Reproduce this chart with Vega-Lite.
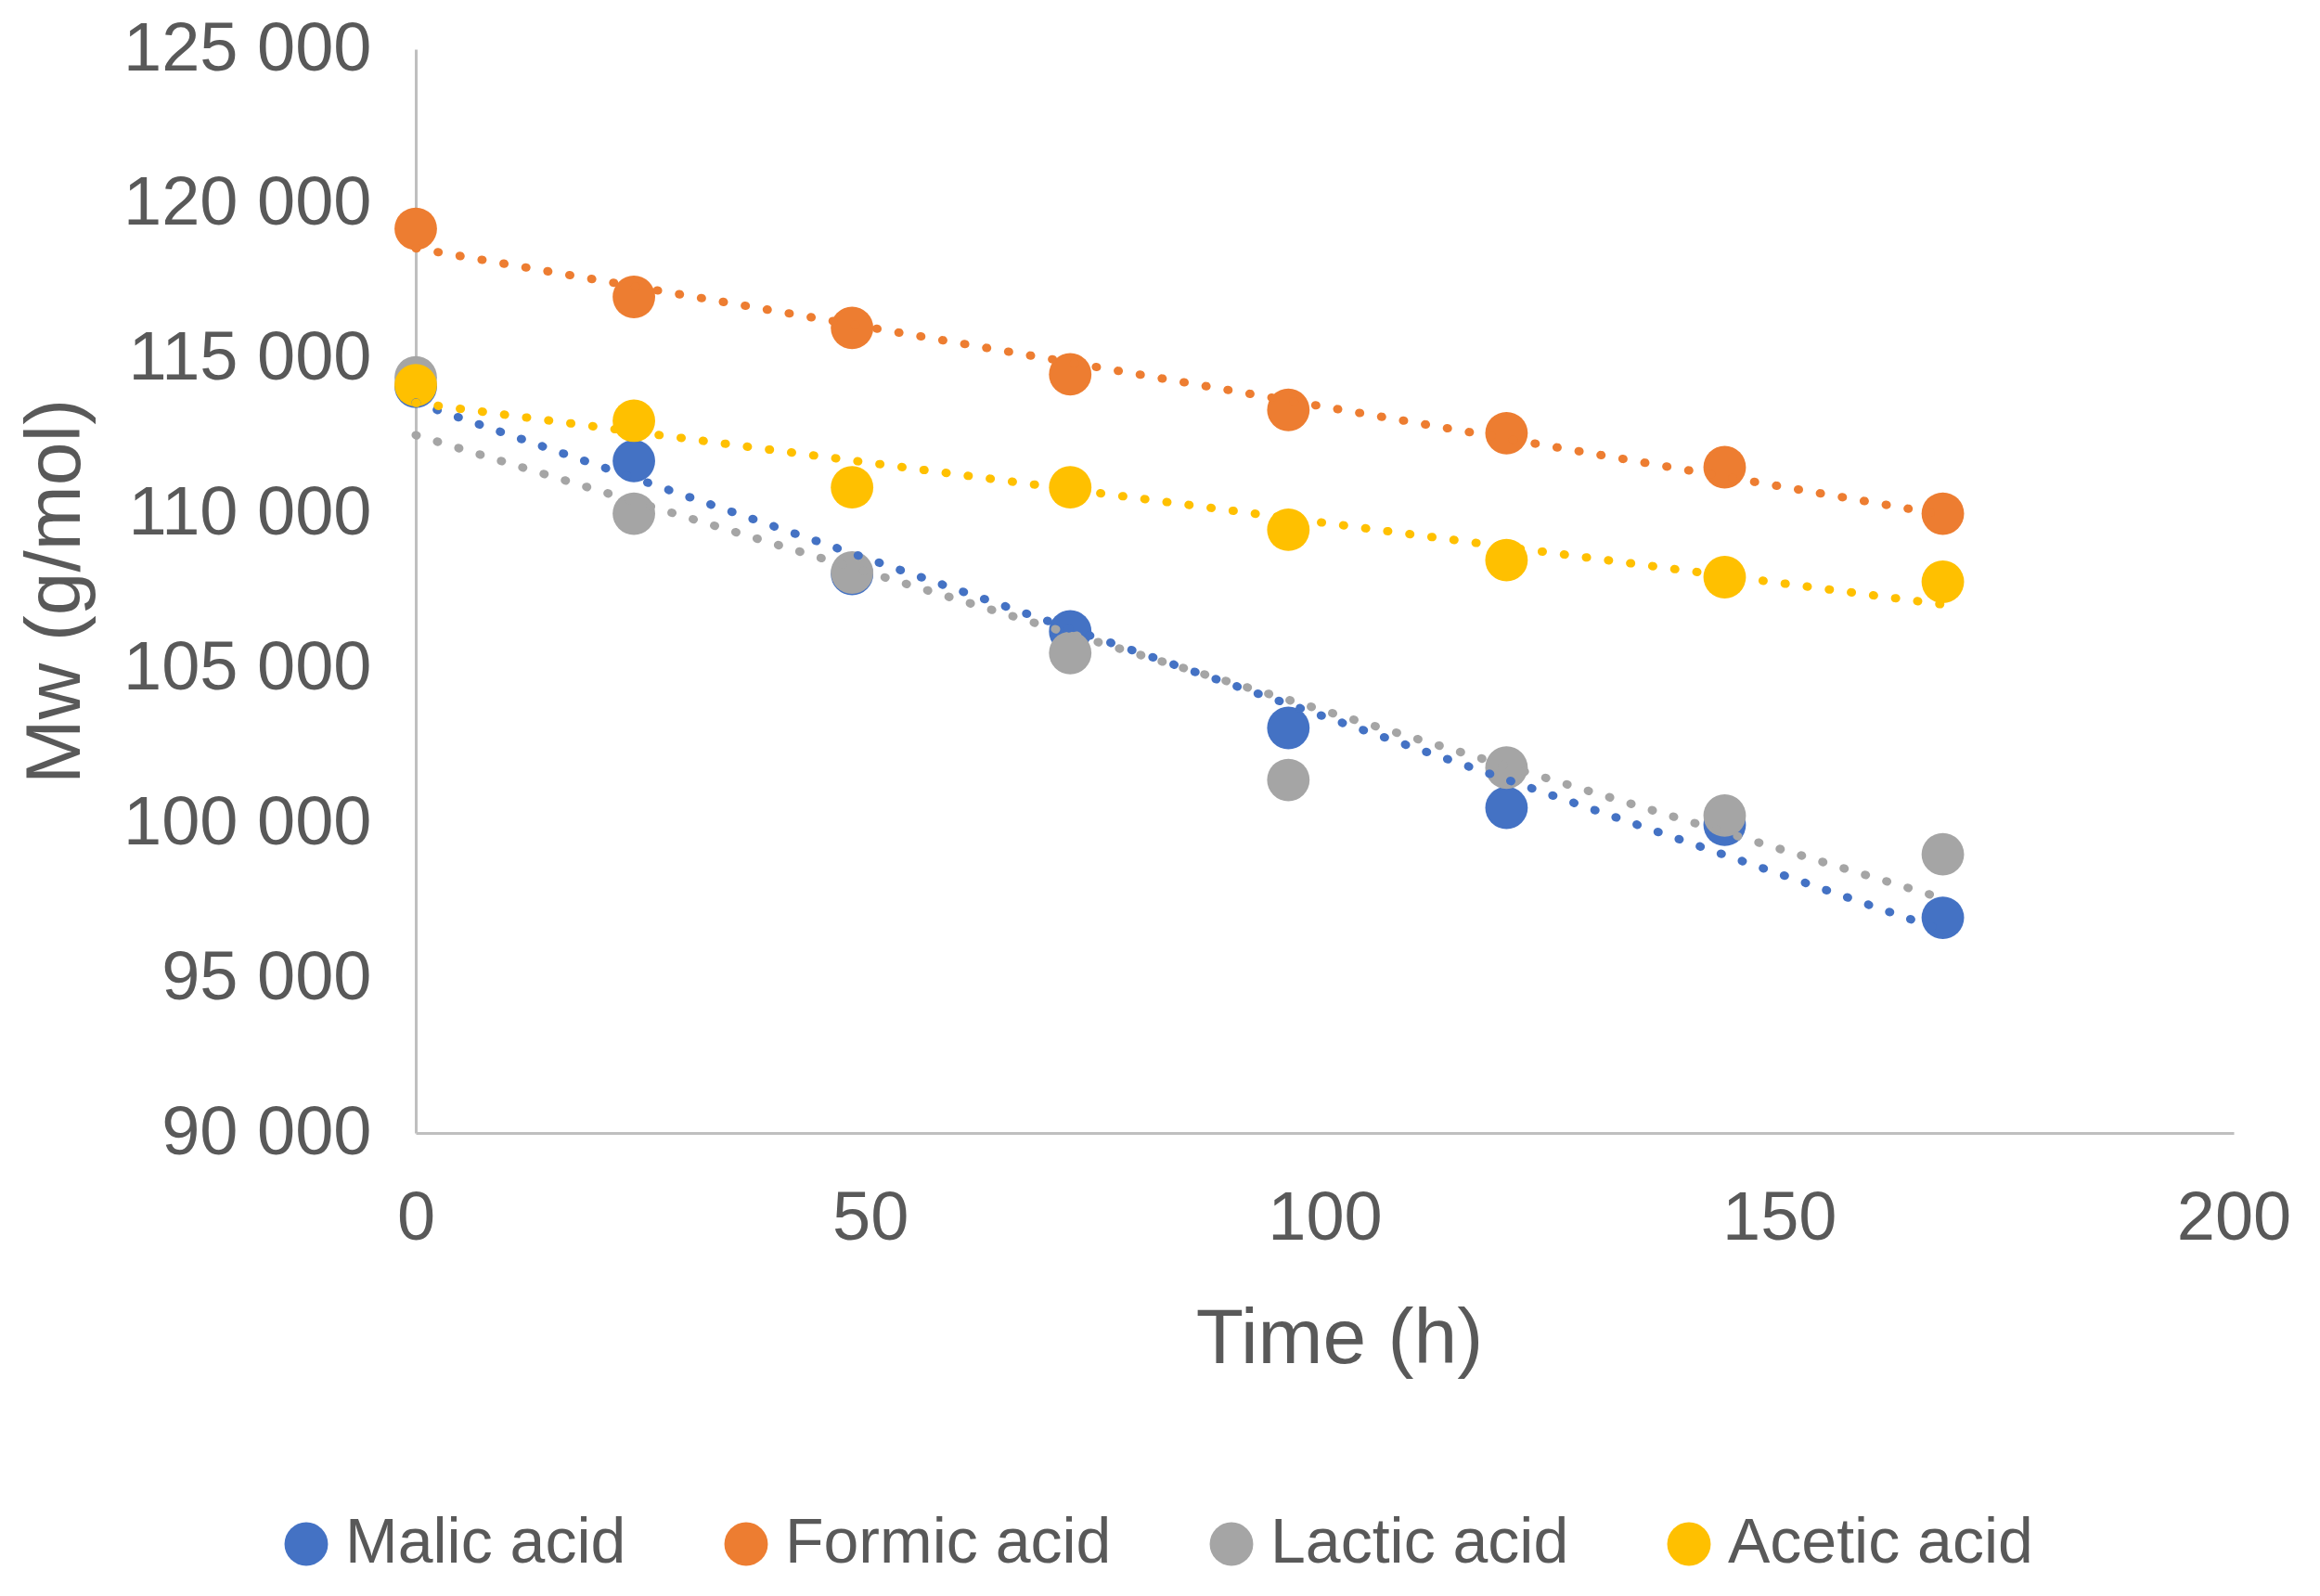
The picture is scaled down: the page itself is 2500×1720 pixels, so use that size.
{
  "$schema": "https://vega.github.io/schema/vega-lite/v6.json",
  "width": 1959,
  "height": 1168,
  "autosize": {"type": "none"},
  "padding": {"left": 448, "top": 53, "right": 93, "bottom": 499},
  "background": "white",
  "config": {
    "view": {"stroke": null},
    "font": "Liberation Sans",
    "axis": {
      "grid": false,
      "ticks": false,
      "domainColor": "#BFBFBF",
      "domainWidth": 3,
      "labelColor": "#595959",
      "titleColor": "#595959",
      "labelFont": "Liberation Sans",
      "titleFont": "Liberation Sans",
      "labelFontSize": 74,
      "titleFontSize": 84,
      "titleFontWeight": "normal",
      "labelLimit": 0
    }
  },
  "data": {
    "values": [
      {"Acid": "Malic acid", "Time": 0, "Mw": 114100},
      {"Acid": "Malic acid", "Time": 24, "Mw": 111700},
      {"Acid": "Malic acid", "Time": 48, "Mw": 108050},
      {"Acid": "Malic acid", "Time": 72, "Mw": 106200},
      {"Acid": "Malic acid", "Time": 96, "Mw": 103080},
      {"Acid": "Malic acid", "Time": 120, "Mw": 100500},
      {"Acid": "Malic acid", "Time": 144, "Mw": 99950},
      {"Acid": "Malic acid", "Time": 168, "Mw": 96950},
      {"Acid": "Formic acid", "Time": 0, "Mw": 119200},
      {"Acid": "Formic acid", "Time": 24, "Mw": 117000},
      {"Acid": "Formic acid", "Time": 48, "Mw": 116000},
      {"Acid": "Formic acid", "Time": 72, "Mw": 114500},
      {"Acid": "Formic acid", "Time": 96, "Mw": 113350},
      {"Acid": "Formic acid", "Time": 120, "Mw": 112600},
      {"Acid": "Formic acid", "Time": 144, "Mw": 111500},
      {"Acid": "Formic acid", "Time": 168, "Mw": 110000},
      {"Acid": "Lactic acid", "Time": 0, "Mw": 114400},
      {"Acid": "Lactic acid", "Time": 24, "Mw": 110000},
      {"Acid": "Lactic acid", "Time": 48, "Mw": 108100},
      {"Acid": "Lactic acid", "Time": 72, "Mw": 105500},
      {"Acid": "Lactic acid", "Time": 96, "Mw": 101400},
      {"Acid": "Lactic acid", "Time": 120, "Mw": 101800},
      {"Acid": "Lactic acid", "Time": 144, "Mw": 100250},
      {"Acid": "Lactic acid", "Time": 168, "Mw": 99000},
      {"Acid": "Acetic acid", "Time": 0, "Mw": 114150},
      {"Acid": "Acetic acid", "Time": 24, "Mw": 113000},
      {"Acid": "Acetic acid", "Time": 48, "Mw": 110850},
      {"Acid": "Acetic acid", "Time": 72, "Mw": 110850},
      {"Acid": "Acetic acid", "Time": 96, "Mw": 109480},
      {"Acid": "Acetic acid", "Time": 120, "Mw": 108500},
      {"Acid": "Acetic acid", "Time": 144, "Mw": 107950},
      {"Acid": "Acetic acid", "Time": 168, "Mw": 107800}
    ]
  },
  "layer": [
    {
      "mark": {"type": "point", "shape": "circle", "filled": true, "opacity": 1, "size": 2100},
      "encoding": {
        "x": {
          "field": "Time", "type": "quantitative",
          "scale": {"domain": [0, 200], "nice": false},
          "axis": {"values": [0, 50, 100, 150, 200], "title": "Time (h)", "titleX": 995, "labelPadding": 56, "titlePadding": 52, "labelFlush": false, "labelOverlap": false}
        },
        "y": {
          "field": "Mw", "type": "quantitative",
          "scale": {"domain": [90000, 125000], "nice": false, "zero": false},
          "axis": {"values": [90000, 95000, 100000, 105000, 110000, 115000, 120000, 125000], "title": "Mw (g/mol)", "titleX": -388, "titleY": 584, "titleAngle": -90, "titleBaseline": "middle", "titleAlign": "center", "labelExpr": "replace(format(datum.value, ','), ',', ' ')", "labelPadding": 48, "labelFlush": false, "labelOverlap": false}
        },
        "color": {
          "field": "Acid", "type": "nominal",
          "scale": {"domain": ["Malic acid", "Formic acid", "Lactic acid", "Acetic acid"], "range": ["#4472C4", "#ED7D31", "#A5A5A5", "#FFC000"]},
          "legend": {
            "title": null, "orient": "none", "direction": "horizontal",
            "legendX": -152, "legendY": 1577,
            "symbolType": "circle", "symbolSize": 2200, "symbolOpacity": 1,
            "labelFontSize": 68, "labelColor": "#595959", "labelFont": "Liberation Sans",
            "labelOffset": 8, "columnPadding": 95, "symbolStrokeWidth": 0, "labelLimit": 0
          }
        }
      }
    },
    {
      "transform": [{"regression": "Mw", "on": "Time", "groupby": ["Acid"]}],
      "mark": {"type": "line", "strokeWidth": 9, "strokeCap": "round", "strokeDash": [1, 23]},
      "encoding": {
        "x": {"field": "Time", "type": "quantitative"},
        "y": {"field": "Mw", "type": "quantitative"},
        "color": {"field": "Acid", "type": "nominal", "legend": null}
      }
    }
  ]
}
